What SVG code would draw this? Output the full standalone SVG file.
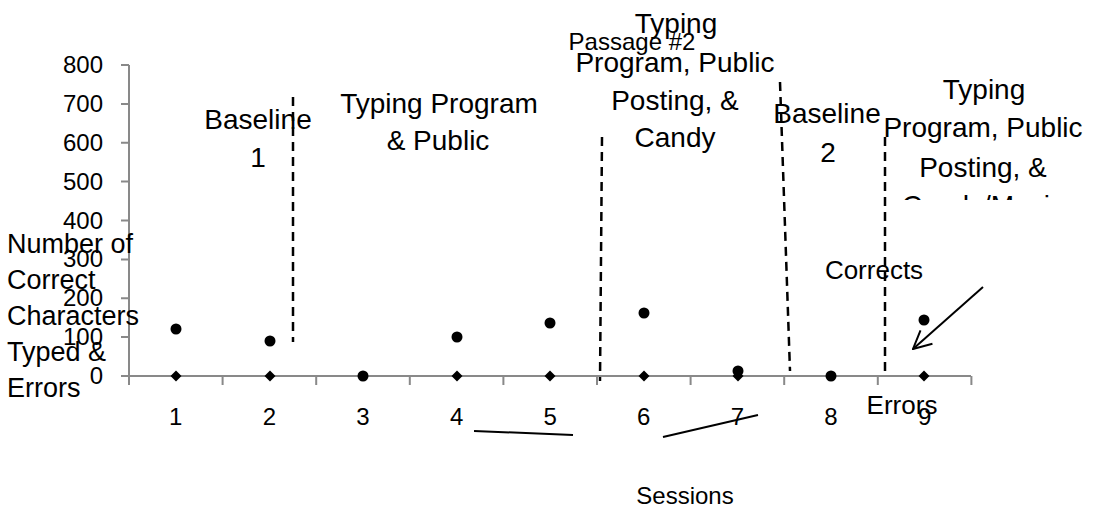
<svg xmlns="http://www.w3.org/2000/svg" width="1099" height="511" viewBox="0 0 1099 511">
<style>
text{font-family:"Liberation Sans",Arial,sans-serif;fill:#000}
.ax{font-size:24px}
.lb{font-size:28px;text-anchor:middle}
.axis{stroke:#898989;stroke-width:2;fill:none}
.dash{stroke:#000;stroke-width:2.5;stroke-dasharray:9 6;fill:none}
.solid{stroke:#000;stroke-width:2;fill:none}
.c{fill:#000}
</style>
<defs>
<clipPath id="clip4"><rect x="860" y="0" width="239" height="200"/></clipPath>
<marker id="arr" markerUnits="userSpaceOnUse" viewBox="0 0 20 20" markerWidth="20" markerHeight="20" refX="19" refY="10" orient="auto">
<path d="M1,1 L19,10 L1,19" fill="none" stroke="#000" stroke-width="2"/>
</marker>
</defs>
<rect width="1099" height="511" fill="#fff"/>
<g id="axes">
<path class="axis" d="M129,65 V376 M121,376 H971"/>
<path class="axis" d="M121,65 H129 M121,103.9 H129 M121,142.8 H129 M121,181.6 H129 M121,220.5 H129 M121,259.4 H129 M121,298.3 H129 M121,337.1 H129"/>
<path class="axis" d="M129,376 V385 M222.6,376 V385 M316.2,376 V385 M409.8,376 V385 M503.4,376 V385 M597,376 V385 M690.6,376 V385 M784.2,376 V385 M877.8,376 V385 M971.4,376 V385"/>
<g class="ax" text-anchor="end">
<text x="103" y="73">800</text><text x="103" y="112">700</text><text x="103" y="151">600</text><text x="103" y="190">500</text><text x="103" y="229">400</text><text x="103" y="267">300</text><text x="103" y="306">200</text><text x="103" y="345">100</text><text x="103" y="384">0</text>
</g>
<g class="ax" text-anchor="middle">
<text x="175.8" y="425">1</text><text x="269.4" y="425">2</text><text x="363" y="425">3</text><text x="456.6" y="425">4</text><text x="550.2" y="425">5</text><text x="643.8" y="425">6</text><text x="737.4" y="425">7</text><text x="831" y="425">8</text><text x="924.6" y="425">9</text>
</g>
</g>
<g id="y-title" style="font-size:27px">
<text x="7" y="253">Number of</text><text x="7" y="289">Correct</text><text x="7" y="325">Characters</text><text x="7" y="361">Typed &amp;</text><text x="7" y="397">Errors</text>
</g>
<g id="errors-series" class="c">
<path d="M176,370.5 L181.5,376 L176,381.5 L170.5,376Z"/>
<path d="M270,370.5 L275.5,376 L270,381.5 L264.5,376Z"/>
<path d="M457,370.5 L462.5,376 L457,381.5 L451.5,376Z"/>
<path d="M550,370.5 L555.5,376 L550,381.5 L544.5,376Z"/>
<path d="M644,370.5 L649.5,376 L644,381.5 L638.5,376Z"/>
<path d="M738,370.5 L743.5,376 L738,381.5 L732.5,376Z"/>
<path d="M924,370.5 L929.5,376 L924,381.5 L918.5,376Z"/>
</g>
<g id="corrects-series" class="c">
<circle cx="176" cy="329" r="5.5"/>
<circle cx="270" cy="341" r="5.5"/>
<circle cx="363" cy="376" r="5.5"/>
<circle cx="457" cy="337" r="5.5"/>
<circle cx="550" cy="323" r="5.5"/>
<circle cx="644" cy="313" r="5.5"/>
<circle cx="738" cy="371" r="5.5"/>
<circle cx="831" cy="376" r="5.5"/>
<circle cx="924" cy="320" r="5.5"/>
</g>
<g id="connectors">
<path class="dash" d="M293,97 V342"/>
<path class="dash" d="M602,137 L600,381"/>
<path class="dash" d="M780,82 L790,371"/>
<path class="dash" d="M885,137 V377"/>
<path class="solid" d="M474,431 L573,435"/>
<path class="solid" d="M663,437 L758,415"/>
<path class="solid" d="M983,287 L913,349" marker-end="url(#arr)"/>
</g>
<g id="phase-baseline1" class="lb">
<text x="258" y="129">Baseline</text><text x="258" y="167">1</text>
</g>
<g id="phase-typing-public" class="lb">
<text x="439" y="113">Typing Program</text><text x="438" y="150">&amp; Public</text>
</g>
<g id="passage2">
<text x="632" y="50" style="font-size:24px;text-anchor:middle">Passage #2</text>
</g>
<g id="phase-typing-candy" class="lb">
<text x="676" y="33">Typing</text><text x="675" y="72">Program, Public</text><text x="675" y="110">Posting, &amp;</text><text x="675" y="147">Candy</text>
</g>
<g id="phase-baseline2" class="lb">
<text x="827" y="123">Baseline</text><text x="828" y="162">2</text>
</g>
<g id="phase-typing-music" class="lb" clip-path="url(#clip4)">
<text x="984" y="99">Typing</text><text x="983" y="137">Program, Public</text><text x="983" y="177">Posting, &amp;</text><text x="983" y="215">Candy/Music</text>
</g>
<g id="label-corrects"><text x="874" y="279" style="font-size:26px;text-anchor:middle">Corrects</text></g>
<g id="label-errors"><text x="902" y="414" style="font-size:26px;text-anchor:middle">Errors</text></g>
<g id="label-sessions"><text x="685" y="504" style="font-size:24px;text-anchor:middle">Sessions</text></g>
</svg>
